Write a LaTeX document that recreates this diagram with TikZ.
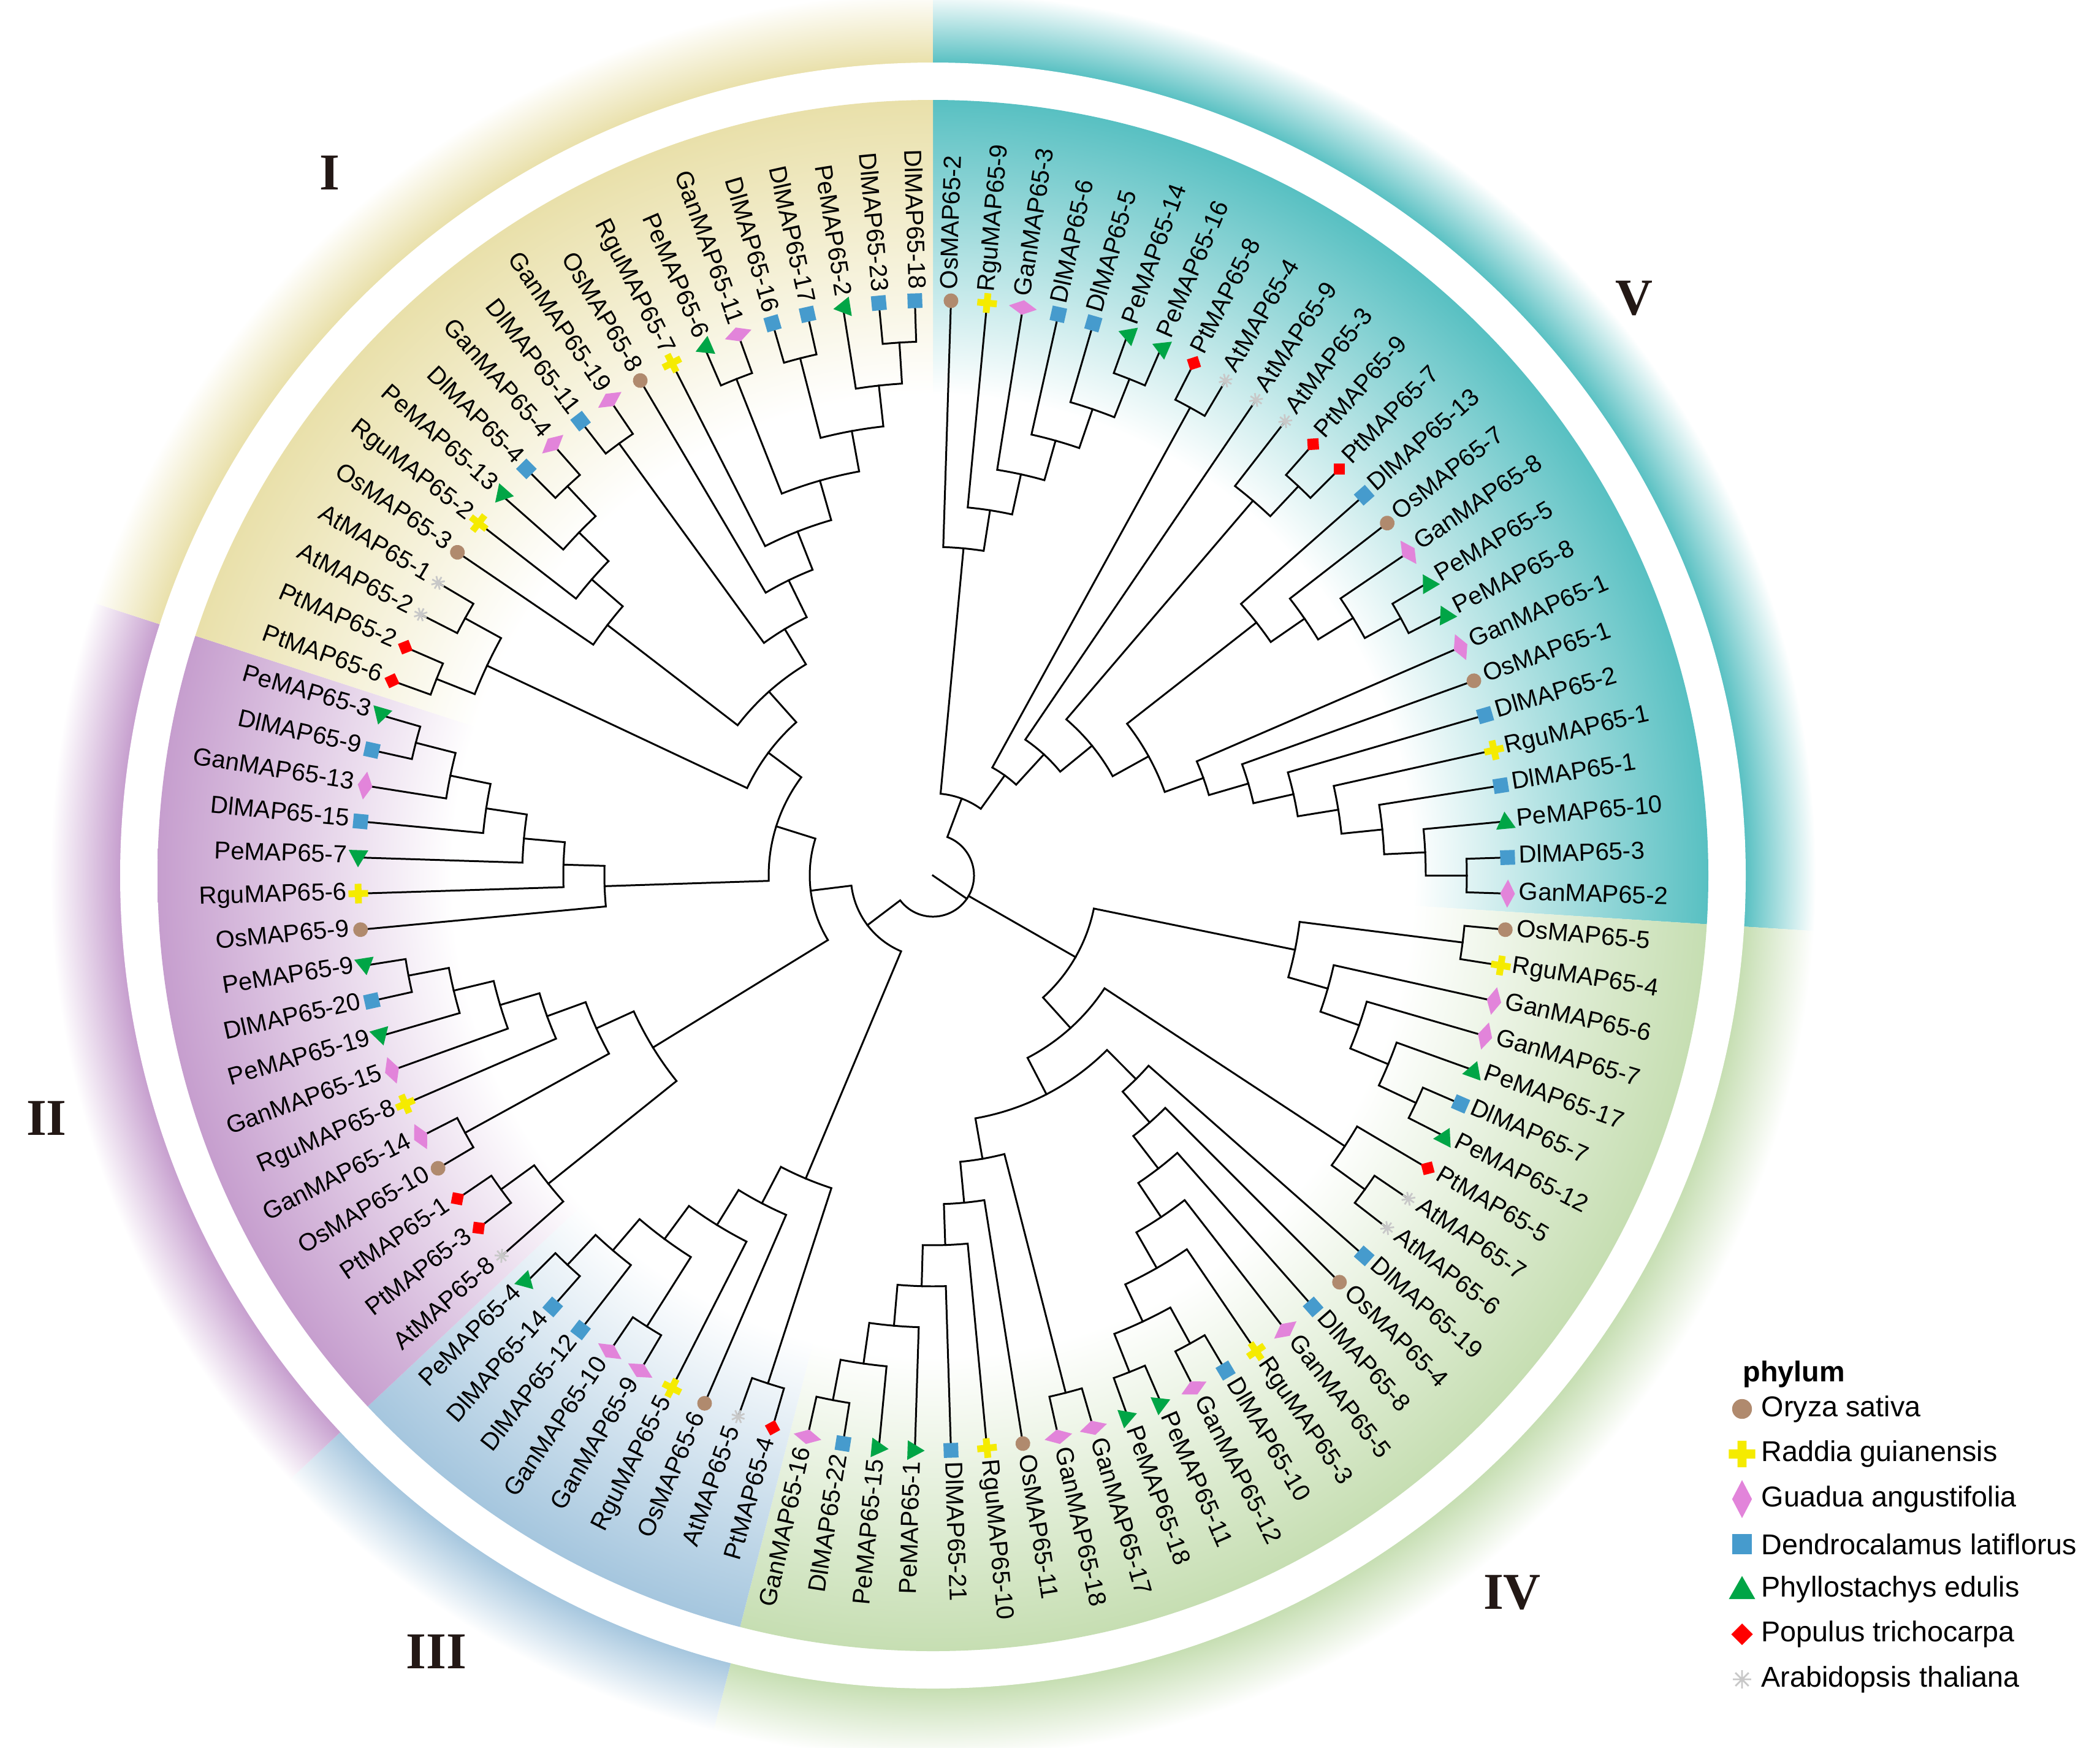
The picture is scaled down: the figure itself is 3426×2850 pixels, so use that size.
\documentclass[tikz,border=0pt]{standalone}
\usepackage{fontspec}
\setmainfont{Liberation Sans}
\newfontfamily\cladefont{Liberation Serif}

% species colours
\definecolor{cOs}{RGB}{176,138,110}
\definecolor{cRgu}{RGB}{245,235,0}
\definecolor{cGan}{RGB}{226,132,218}
\definecolor{cDl}{RGB}{70,155,205}
\definecolor{cPe}{RGB}{0,165,70}
\definecolor{cPt}{RGB}{255,0,0}
\definecolor{cAt}{RGB}{200,200,200}
% clade colours
\definecolor{bgI}{RGB}{233,224,170}
\definecolor{bgII}{RGB}{198,158,206}
\definecolor{bgIII}{RGB}{165,198,222}
\definecolor{bgIV}{RGB}{198,222,178}
\definecolor{bgV}{RGB}{88,192,194}
\definecolor{numclr}{RGB}{35,24,21}

\pgfdeclareradialshading{inI}{\pgfpoint{0bp}{0bp}}{color(0bp)=(white); color(15.5bp)=(white); color(25bp)=(bgI); color(50bp)=(bgI)}
\pgfdeclareradialshading{inII}{\pgfpoint{0bp}{0bp}}{color(0bp)=(white); color(15.5bp)=(white); color(25bp)=(bgII); color(50bp)=(bgII)}
\pgfdeclareradialshading{inIII}{\pgfpoint{0bp}{0bp}}{color(0bp)=(white); color(15.5bp)=(white); color(25bp)=(bgIII); color(50bp)=(bgIII)}
\pgfdeclareradialshading{inIV}{\pgfpoint{0bp}{0bp}}{color(0bp)=(white); color(15.5bp)=(white); color(25bp)=(bgIV); color(50bp)=(bgIV)}
\pgfdeclareradialshading{inV}{\pgfpoint{0bp}{0bp}}{color(0bp)=(white); color(15.5bp)=(white); color(25bp)=(bgV); color(50bp)=(bgV)}
\pgfdeclareradialshading{outI}{\pgfpoint{0bp}{0bp}}{color(0bp)=(bgI); color(23bp)=(bgI); color(25bp)=(white); color(50bp)=(white)}
\pgfdeclareradialshading{outII}{\pgfpoint{0bp}{0bp}}{color(0bp)=(bgII); color(23bp)=(bgII); color(25bp)=(white); color(50bp)=(white)}
\pgfdeclareradialshading{outIII}{\pgfpoint{0bp}{0bp}}{color(0bp)=(bgIII); color(23bp)=(bgIII); color(25bp)=(white); color(50bp)=(white)}
\pgfdeclareradialshading{outIV}{\pgfpoint{0bp}{0bp}}{color(0bp)=(bgIV); color(23bp)=(bgIV); color(25bp)=(white); color(50bp)=(white)}
\pgfdeclareradialshading{outV}{\pgfpoint{0bp}{0bp}}{color(0bp)=(bgV); color(23bp)=(bgV); color(25bp)=(white); color(50bp)=(white)}

% species marks, drawn at the origin (x radial, y tangential)
\newcommand\markos{\fill[cOs] (0,0) circle (12);}
\newcommand\markrgu{\fill[cRgu] (-16,-5.5) rectangle (16,5.5) (-5.5,-16) rectangle (5.5,16);}
\newcommand\markgan{\fill[cGan] (0,-23) -- (12,0) -- (0,23) -- (-12,0) -- cycle;}
\newcommand\markdl{\fill[cDl] (-12,-12) rectangle (12,12);}
\newcommand\markpe{\fill[cPe] (-16,-12) -- (16,-12) -- (0,16) -- cycle;}
\newcommand\markpt{\fill[cPt] (0,-13) -- (13,0) -- (0,13) -- (-13,0) -- cycle;}
\newcommand\markat{\draw[cAt, line width=0.8pt] (-11,0) -- (11,0) (0,-11) -- (0,11) (-8,-8) -- (8,8) (-8,8) -- (8,-8);}

% clade sectors
\newcommand\bgout[3]{\begin{scope}\clip (0,0) -- (#1:1500) arc[start angle=#1, end angle=#2, radius=1500] -- cycle;
  \shade[shading=#3] (0,0) circle (1440);\end{scope}}
\newcommand\bgin[3]{\begin{scope}\clip (0,0) -- (#1:1500) arc[start angle=#1, end angle=#2, radius=1500] -- cycle;
  \shade[shading=#3] (0,0) circle (1265);\end{scope}}

% internal node: height, y of child a, height of a, y of child b, height of b
\newcommand\jn[5]{%
  \pgfmathsetmacro\jnR{938-67*#1}%
  \pgfmathsetmacro\jnA{88.2-3.6*#2}%
  \pgfmathsetmacro\jnB{88.2-3.6*#4}%
  \pgfmathsetmacro\jnRa{938-67*#3}%
  \pgfmathsetmacro\jnRb{938-67*#5}%
  \draw[branch] (\jnA:\jnRa) -- (\jnA:\jnR) arc[start angle=\jnA, end angle=\jnB, radius=\jnR] -- (\jnB:\jnRb);}

% leaf: index, species, label
\newcommand\leaf[3]{%
  \pgfmathsetmacro\ang{88.2-3.6*#1}%
  \pgfmathtruncatemacro\rside{cos(\ang)>=0}%
  \begin{scope}[shift={(\ang:938)}, rotate=\ang]\csname mark#2\endcsname\end{scope}%
  \ifnum\rside=1
    \node[leaflbl, rotate=\ang, anchor=mid west] (lf#1) at (\ang:956) {#3};%
  \else
    \pgfmathsetmacro\flip{\ang+180}%
    \node[leaflbl, rotate=\flip, anchor=mid east] (lf#1) at (\ang:956) {#3};%
  \fi}

\begin{document}
\begin{tikzpicture}[x=0.01cm, y=0.01cm,
  branch/.style={line width=0.85pt, line cap=rect},
  leaflbl/.style={inner sep=0pt, font=\fontsize{11.4}{13}\selectfont},
  numlbl/.style={font=\cladefont\bfseries\fontsize{24}{28}\selectfont, text=numclr},
  legtxt/.style={inner sep=0pt, font=\fontsize{13.3}{15}\selectfont}]
\useasboundingbox (0,0) rectangle (3426,-2850);

\begin{scope}[shift={(1522,-1428)}]
  % background
  \bgout{90}{-3.6}{outV}
  \bgout{-3.6}{-104.4}{outIV}
  \bgout{-104.4}{-136.8}{outIII}
  \bgout{-136.8}{-198}{outII}
  \bgout{-198}{-270}{outI}
  \fill[white] (0,0) circle (1326);
  \bgin{90}{-3.6}{inV}
  \bgin{-3.6}{-104.4}{inIV}
  \bgin{-104.4}{-136.8}{inIII}
  \bgin{-136.8}{-198}{inII}
  \bgin{-198}{-270}{inI}

  % root
  \pgfmathsetmacro\tA{88.2-3.6*5.193115}
  \pgfmathsetmacro\tIV{88.2-3.6*32.766602}
  \pgfmathsetmacro\tB{88.2-3.6*64.183838}
  \pgfmathsetmacro\tR{88.2-3.6*34.047852}
  \draw[branch] (\tA:134) -- (\tA:67) arc[start angle=\tA, end angle=\tB, radius=67] -- (\tB:134);
  \draw[branch] (\tIV:67) -- (\tIV:268);
  \draw[branch] (0,0) -- (\tR:67);

  % clade V
  \jn{1}{5}{0}{6}{0}
  \jn{2}{4}{0}{5.5}{1}
  \jn{3}{3}{0}{4.75}{2}
  \jn{4}{2}{0}{3.875}{3}
  \jn{5}{1}{0}{2.9375}{4}
  \jn{6}{0}{0}{1.96875}{5}
  \jn{1}{7}{0}{8}{0}
  \jn{1}{11}{0}{12}{0}
  \jn{2}{10}{0}{11.5}{1}
  \jn{1}{16}{0}{17}{0}
  \jn{2}{15}{0}{16.5}{1}
  \jn{3}{14}{0}{15.75}{2}
  \jn{4}{13}{0}{14.875}{3}
  \jn{1}{24}{0}{25}{0}
  \jn{2}{23}{0}{24.5}{1}
  \jn{3}{22}{0}{23.75}{2}
  \jn{4}{21}{0}{22.875}{3}
  \jn{5}{20}{0}{21.9375}{4}
  \jn{6}{19}{0}{20.96875}{5}
  \jn{7}{18}{0}{19.984375}{6}
  \jn{8}{13.9375}{4}{18.9921875}{7}
  \jn{9}{10.75}{2}{16.464844}{8}
  \jn{10}{9}{0}{13.607422}{9}
  \jn{11}{7.5}{1}{11.303711}{10}
  \jn{12}{0.984375}{6}{9.401855}{11}

  % clade IV
  \jn{1}{26}{0}{27}{0}
  \jn{1}{31}{0}{32}{0}
  \jn{2}{30}{0}{31.5}{1}
  \jn{3}{29}{0}{30.75}{2}
  \jn{4}{28}{0}{29.875}{3}
  \jn{5}{26.5}{1}{28.9375}{4}
  \jn{1}{34}{0}{35}{0}
  \jn{2}{33}{0}{34.5}{1}
  \jn{1}{41}{0}{42}{0}
  \jn{1}{43}{0}{44}{0}
  \jn{2}{41.5}{1}{43.5}{1}
  \jn{3}{40}{0}{42.5}{2}
  \jn{4}{39}{0}{41.25}{3}
  \jn{5}{38}{0}{40.125}{4}
  \jn{6}{37}{0}{39.0625}{5}
  \jn{7}{36}{0}{38.03125}{6}
  \jn{1}{45}{0}{46}{0}
  \jn{1}{52}{0}{53}{0}
  \jn{2}{51}{0}{52.5}{1}
  \jn{3}{50}{0}{51.75}{2}
  \jn{4}{49}{0}{50.875}{3}
  \jn{5}{48}{0}{49.9375}{4}
  \jn{6}{47}{0}{48.96875}{5}
  \jn{7}{45.5}{1}{47.984375}{6}
  \jn{8}{37.015625}{7}{46.742188}{7}
  \jn{9}{33.75}{2}{41.878906}{8}
  \jn{10}{27.71875}{5}{37.814453}{9}

  % clade III
  \jn{1}{54}{0}{55}{0}
  \jn{1}{58}{0}{59}{0}
  \jn{1}{61}{0}{62}{0}
  \jn{2}{60}{0}{61.5}{1}
  \jn{3}{58.5}{1}{60.75}{2}
  \jn{4}{57}{0}{59.625}{3}
  \jn{5}{56}{0}{58.3125}{4}
  \jn{6}{54.5}{1}{57.15625}{5}

  % clade II
  \jn{1}{64}{0}{65}{0}
  \jn{2}{63}{0}{64.5}{1}
  \jn{1}{66}{0}{67}{0}
  \jn{1}{71}{0}{72}{0}
  \jn{2}{70}{0}{71.5}{1}
  \jn{3}{69}{0}{70.75}{2}
  \jn{4}{68}{0}{69.875}{3}
  \jn{5}{66.5}{1}{68.9375}{4}
  \jn{6}{63.75}{2}{67.71875}{5}
  \jn{1}{78}{0}{79}{0}
  \jn{2}{77}{0}{78.5}{1}
  \jn{3}{76}{0}{77.75}{2}
  \jn{4}{75}{0}{76.875}{3}
  \jn{5}{74}{0}{75.9375}{4}
  \jn{6}{73}{0}{74.96875}{5}

  % clade I
  \jn{1}{80}{0}{81}{0}
  \jn{1}{82}{0}{83}{0}
  \jn{2}{80.5}{1}{82.5}{1}
  \jn{1}{87}{0}{88}{0}
  \jn{2}{86}{0}{87.5}{1}
  \jn{3}{85}{0}{86.75}{2}
  \jn{4}{84}{0}{85.875}{3}
  \jn{1}{89}{0}{90}{0}
  \jn{1}{93}{0}{94}{0}
  \jn{1}{95}{0}{96}{0}
  \jn{1}{98}{0}{99}{0}
  \jn{2}{97}{0}{98.5}{1}
  \jn{3}{95.5}{1}{97.75}{2}
  \jn{4}{93.5}{1}{96.625}{3}
  \jn{5}{92}{0}{95.0625}{4}
  \jn{6}{91}{0}{93.53125}{5}
  \jn{7}{89.5}{1}{92.265625}{6}
  \jn{8}{84.9375}{4}{90.882813}{7}
  \jn{9}{81.5}{2}{87.910156}{8}
  \jn{10}{73.984375}{6}{84.705078}{9}
  \jn{11}{65.734375}{6}{79.344727}{10}
  \jn{12}{55.828125}{6}{72.539551}{11}

  % leaves
  \foreach \sp/\lab [count=\i from 0] in {
    os/OsMAP65-2, rgu/RguMAP65-9, gan/GanMAP65-3, dl/DlMAP65-6, dl/DlMAP65-5,
    pe/PeMAP65-14, pe/PeMAP65-16, pt/PtMAP65-8, at/AtMAP65-4, at/AtMAP65-9,
    at/AtMAP65-3, pt/PtMAP65-9, pt/PtMAP65-7, dl/DlMAP65-13, os/OsMAP65-7,
    gan/GanMAP65-8, pe/PeMAP65-5, pe/PeMAP65-8, gan/GanMAP65-1, os/OsMAP65-1,
    dl/DlMAP65-2, rgu/RguMAP65-1, dl/DlMAP65-1, pe/PeMAP65-10, dl/DlMAP65-3,
    gan/GanMAP65-2, os/OsMAP65-5, rgu/RguMAP65-4, gan/GanMAP65-6, gan/GanMAP65-7,
    pe/PeMAP65-17, dl/DlMAP65-7, pe/PeMAP65-12, pt/PtMAP65-5, at/AtMAP65-7,
    at/AtMAP65-6, dl/DlMAP65-19, os/OsMAP65-4, dl/DlMAP65-8, gan/GanMAP65-5,
    rgu/RguMAP65-3, dl/DlMAP65-10, gan/GanMAP65-12, pe/PeMAP65-11, pe/PeMAP65-18,
    gan/GanMAP65-17, gan/GanMAP65-18, os/OsMAP65-11, rgu/RguMAP65-10, dl/DlMAP65-21,
    pe/PeMAP65-1, pe/PeMAP65-15, dl/DlMAP65-22, gan/GanMAP65-16, pt/PtMAP65-4,
    at/AtMAP65-5, os/OsMAP65-6, rgu/RguMAP65-5, gan/GanMAP65-9, gan/GanMAP65-10,
    dl/DlMAP65-12, dl/DlMAP65-14, pe/PeMAP65-4, at/AtMAP65-8, pt/PtMAP65-3,
    pt/PtMAP65-1, os/OsMAP65-10, gan/GanMAP65-14, rgu/RguMAP65-8, gan/GanMAP65-15,
    pe/PeMAP65-19, dl/DlMAP65-20, pe/PeMAP65-9, os/OsMAP65-9, rgu/RguMAP65-6,
    pe/PeMAP65-7, dl/DlMAP65-15, gan/GanMAP65-13, dl/DlMAP65-9, pe/PeMAP65-3,
    pt/PtMAP65-6, pt/PtMAP65-2, at/AtMAP65-2, at/AtMAP65-1, os/OsMAP65-3,
    rgu/RguMAP65-2, pe/PeMAP65-13, dl/DlMAP65-4, gan/GanMAP65-4, dl/DlMAP65-11,
    gan/GanMAP65-19, os/OsMAP65-8, rgu/RguMAP65-7, pe/PeMAP65-6, gan/GanMAP65-11,
    dl/DlMAP65-16, dl/DlMAP65-17, pe/PeMAP65-2, dl/DlMAP65-23, dl/DlMAP65-18}
    {\leaf{\i}{\sp}{\lab}}
\end{scope}

% clade numbers
\node[numlbl] (cI) at (538,-282) {I};
\node[numlbl] (cII) at (76,-1824) {II};
\node[numlbl] (cIII) at (712,-2694) {III};
\node[numlbl] (cIV) at (2467,-2597) {IV};
\node[numlbl] (cV) at (2666,-486) {V};

% legend
\node[legtxt, anchor=west, font=\bfseries\fontsize{13.3}{15}\selectfont] (phy) at (2843,-2241) {phylum};
\foreach \sp/\nm [count=\k from 0] in {os/Oryza sativa, rgu/Raddia guianensis,
    gan/Guadua angustifolia, dl/Dendrocalamus latiflorus, pe/Phyllostachys edulis,
    pt/Populus trichocarpa, at/Arabidopsis thaliana} {
  \pgfmathsetmacro\ly{-2298-73.5*\k}
  \begin{scope}[shift={(2842,\ly)}, scale=1.35]\csname mark\sp\endcsname\end{scope}
  \node[legtxt, anchor=west] (lg\k) at (2873,\ly) {\nm};
}
\end{tikzpicture}
\end{document}
